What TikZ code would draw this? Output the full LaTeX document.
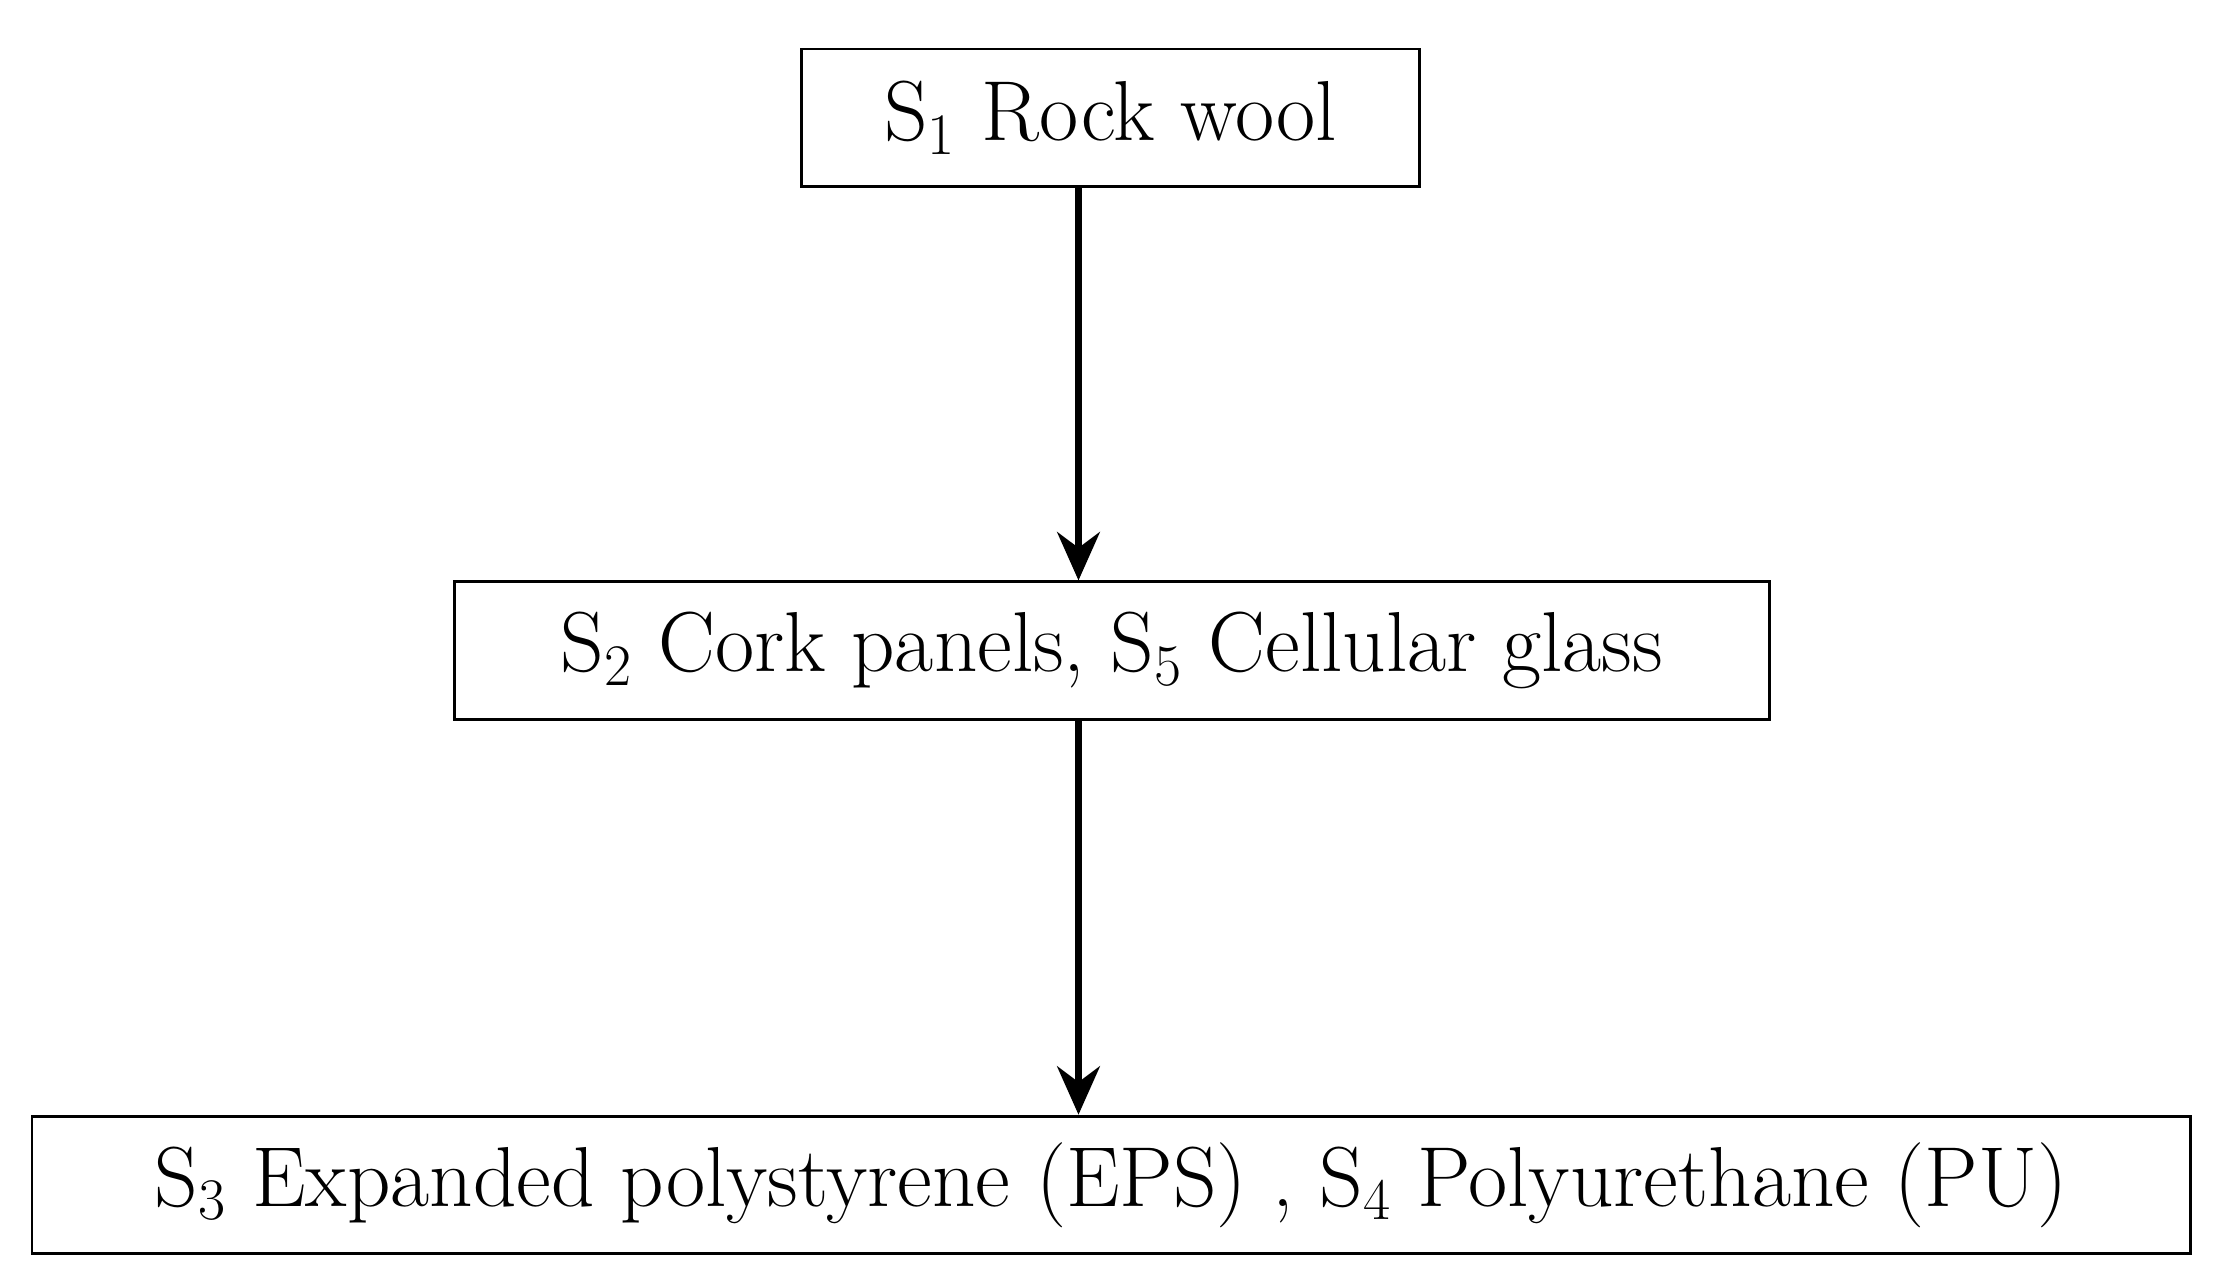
\documentclass[tikz,border=0pt]{standalone}
\usetikzlibrary{arrows.meta}
\begin{document}
\begin{tikzpicture}[x=1pt,y=1pt,
  box/.style={draw,line width=1pt,inner sep=0pt,minimum height=48.5pt,font=\fontsize{30}{34}\selectfont},
  arr/.style={line width=2.6pt,-{Stealth[length=17pt,width=15pt]}}]
\useasboundingbox (0,0) rectangle (781.5,-452);
\node[box,minimum width=217.5pt] (b1) at (391.25,-41.5) {S$_1$ Rock wool};
\node[box,minimum width=463.5pt] (b2) at (391.75,-229.25) {S$_2$ Cork panels, S$_5$ Cellular glass};
\node[box,minimum width=760.5pt] (b3) at (391.5,-417.5) {S$_3$ Expanded polystyrene (EPS) , S$_4$ Polyurethane (PU)};
\coordinate (ax) at (380,0);
\draw[arr] (b1.south -| ax) -- (b2.north -| ax);
\draw[arr] (b2.south -| ax) -- (b3.north -| ax);
\end{tikzpicture}
\end{document}
